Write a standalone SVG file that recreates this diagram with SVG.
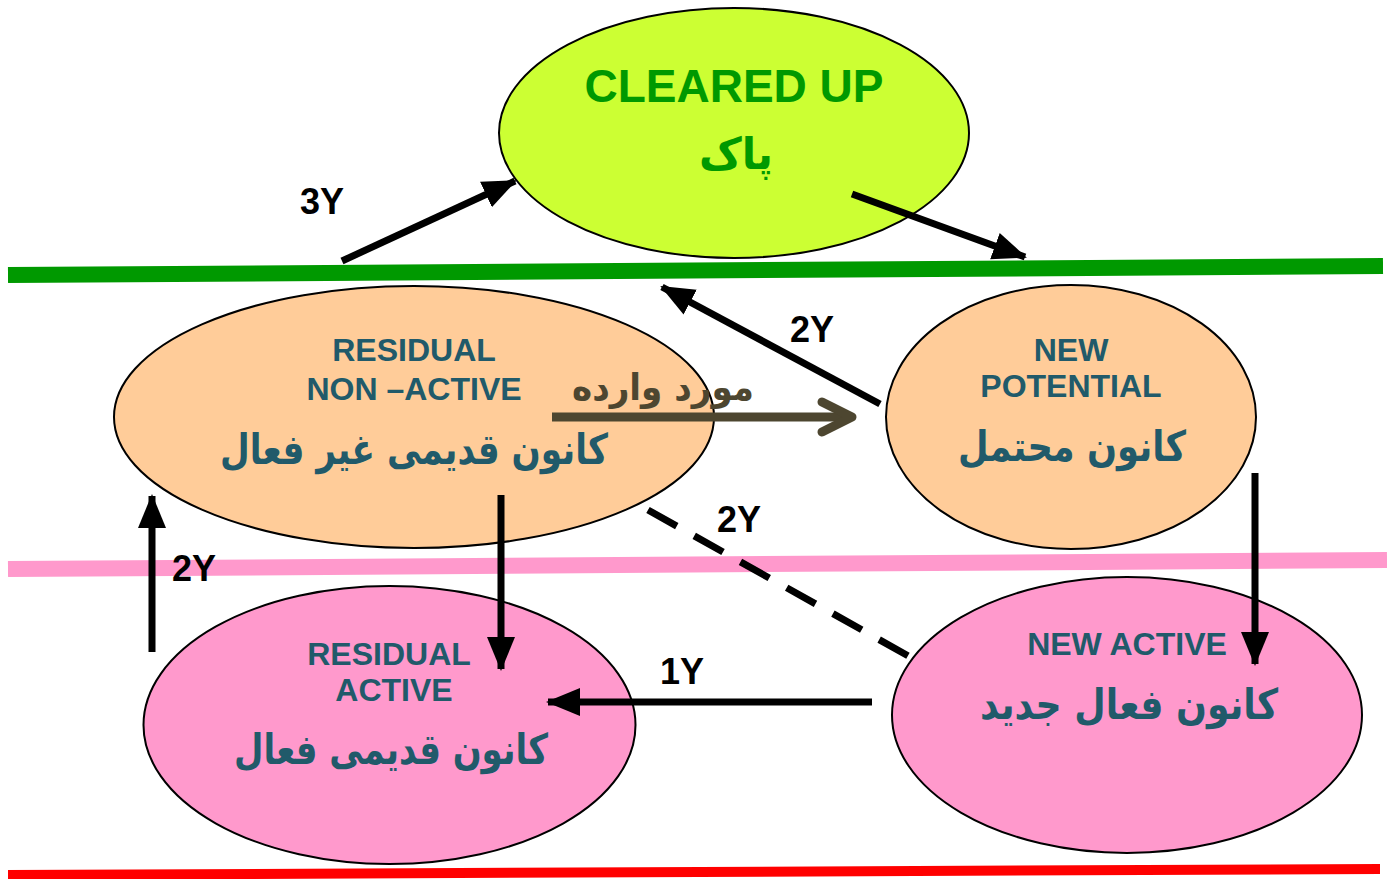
<svg xmlns="http://www.w3.org/2000/svg" width="1387" height="879" viewBox="0 0 1387 879">
<style>
.node{stroke:#000;stroke-width:2}
.en{font-family:"Liberation Sans",Arial,sans-serif;font-weight:bold;text-anchor:middle}
.fa{font-family:"DejaVu Sans","Noto Sans",sans-serif;font-weight:bold;text-anchor:middle}
.teal{fill:#215A6A}
.lbl{font-family:"Liberation Sans",Arial,sans-serif;font-weight:bold;font-size:36px;fill:#000}
.arr{stroke:#000;stroke-width:7;fill:none}
</style>
<defs>
<marker id="ah" markerUnits="userSpaceOnUse" markerWidth="36" markerHeight="32" refX="32" refY="14" orient="auto" viewBox="0 0 36 28">
<path d="M0,0 L34,14 L0,28 Z" fill="#000"/>
</marker>
</defs>
<rect width="1387" height="879" fill="#fff"/>
<g id="bands">
<line x1="8" y1="275" x2="1383" y2="266" stroke="#009900" stroke-width="16"/>
<line x1="8" y1="569" x2="1387" y2="560" stroke="#FF99CC" stroke-width="16"/>
<line x1="8" y1="875" x2="1380" y2="869" stroke="#FF0000" stroke-width="10"/>
</g>
<g id="cleared">
<ellipse class="node" cx="734" cy="133" rx="235" ry="125" fill="#CCFF33"/>
<text class="en" x="734" y="102" font-size="46" fill="#009900">CLEARED UP</text>
<text class="fa" x="736" y="169" font-size="44" fill="#009900" textLength="74" lengthAdjust="spacingAndGlyphs">پاک</text>
</g>
<g id="residual-non-active">
<ellipse class="node" cx="414" cy="417" rx="300" ry="131" fill="#FFCC99"/>
<text class="en teal" x="414" y="361" font-size="32">RESIDUAL</text>
<text class="en teal" x="414" y="400" font-size="32">NON –ACTIVE</text>
<text class="fa teal" x="414" y="464" font-size="42" textLength="388" lengthAdjust="spacingAndGlyphs">کانون قدیمی غیر فعال</text>
</g>
<g id="new-potential">
<ellipse class="node" cx="1071" cy="417" rx="185" ry="132" fill="#FFCC99"/>
<text class="en teal" x="1071" y="361" font-size="32">NEW</text>
<text class="en teal" x="1071" y="397" font-size="32">POTENTIAL</text>
<text class="fa teal" x="1072" y="461" font-size="42" textLength="228" lengthAdjust="spacingAndGlyphs">کانون محتمل</text>
</g>
<g id="residual-active">
<ellipse class="node" cx="389.5" cy="725" rx="246" ry="139" fill="#FF99CC"/>
<text class="en teal" x="389" y="665" font-size="32">RESIDUAL</text>
<text class="en teal" x="394" y="701" font-size="32">ACTIVE</text>
<text class="fa teal" x="391" y="764" font-size="42" textLength="314" lengthAdjust="spacingAndGlyphs">کانون قدیمی فعال</text>
</g>
<g id="new-active">
<ellipse class="node" cx="1127" cy="715" rx="235" ry="138" fill="#FF99CC"/>
<text class="en teal" x="1127" y="655" font-size="32">NEW ACTIVE</text>
<text class="fa teal" x="1129" y="719" font-size="42" textLength="298" lengthAdjust="spacingAndGlyphs">کانون فعال جدید</text>
</g>
<g id="connectors">
<line class="arr" x1="342" y1="261" x2="515" y2="181" marker-end="url(#ah)"/>
<line class="arr" x1="852" y1="194" x2="1025" y2="257" marker-end="url(#ah)"/>
<line class="arr" x1="880" y1="404" x2="662" y2="287" marker-end="url(#ah)"/>
<line class="arr" x1="501" y1="495" x2="501" y2="669" marker-end="url(#ah)"/>
<line class="arr" x1="1255" y1="473" x2="1255" y2="664" marker-end="url(#ah)"/>
<line class="arr" x1="872" y1="702" x2="548" y2="702" marker-end="url(#ah)"/>
<line class="arr" x1="152" y1="652" x2="152" y2="496" marker-end="url(#ah)"/>
<line class="arr" x1="648" y1="510" x2="912" y2="658" stroke-dasharray="33 20"/>
<line x1="552" y1="417" x2="850" y2="417" stroke="#4D4630" stroke-width="9"/>
<polyline points="822,402 852,417 822,432" fill="none" stroke="#4D4630" stroke-width="9" stroke-linecap="round" stroke-linejoin="round"/>
</g>
<g id="labels">
<text class="lbl" x="300" y="214">3Y</text>
<text class="lbl" x="790" y="342">2Y</text>
<text class="lbl" x="717" y="532">2Y</text>
<text class="lbl" x="172" y="581">2Y</text>
<text class="lbl" x="660" y="684">1Y</text>
<text class="fa" x="663" y="400" font-size="37" fill="#4D4630" textLength="182" lengthAdjust="spacingAndGlyphs">مورد وارده</text>
</g>
</svg>
